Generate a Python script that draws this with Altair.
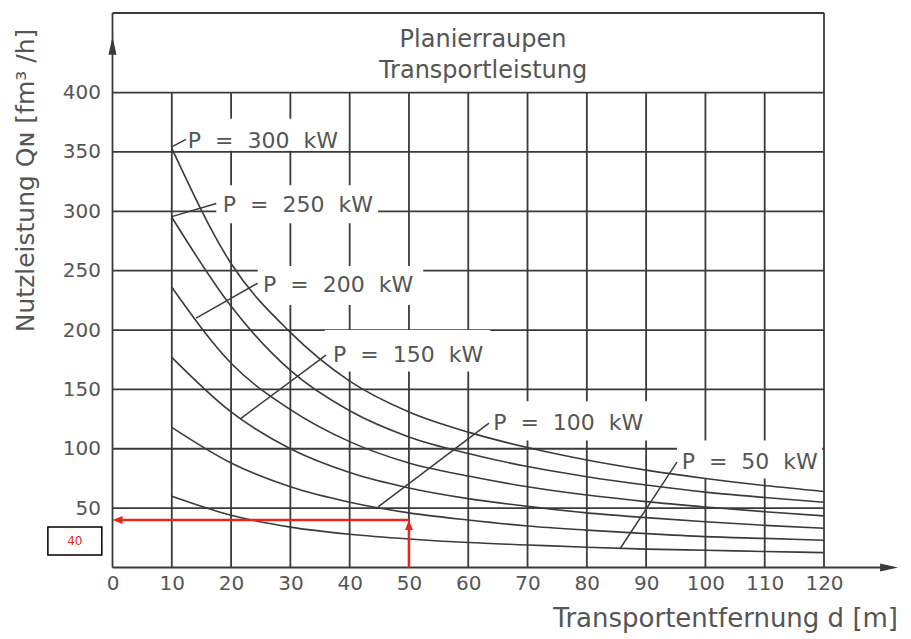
import altair as alt
import pandas as pd

# ---------------- data ----------------
D_VALUES = [10, 20, 30, 40, 50, 60, 70, 80, 90, 100, 110, 120]
POWERS = [300, 250, 200, 150, 100, 50]
Q_300 = [353, 256, 198, 157, 131, 114, 101, 90.5, 82, 75, 69, 64]
Q_250 = [295, 220, 166, 132, 110, 96, 85, 76.5, 69.5, 63.5, 59, 55]
Q_200 = [236, 172, 133, 106, 88, 77, 68, 61, 55.5, 51, 47, 43.5]
Q_150 = [177, 131, 100, 80, 67, 58, 51.5, 46, 42, 38.5, 35.5, 33]
Q_100 = [118, 88, 68, 55, 46, 40, 35, 31.5, 28.5, 26, 24.5, 23]
Q_50 = [60, 44, 34, 28, 24, 21, 19, 17, 15.5, 14.5, 13.5, 12.5]
CURVES = [Q_300, Q_250, Q_200, Q_150, Q_100, Q_50]

X_TICKS = list(range(0, 121, 10))
Y_TICKS = list(range(50, 401, 50))

# curve labels: text, label anchor (d, q), leader start on curve, leader end
LABEL_TEXT = ["P = 300 kW", "P = 250 kW", "P = 200 kW", "P = 150 kW", "P = 100 kW", "P = 50 kW"]
LABEL_D = [12.7, 18.6, 25.4, 37.2, 64.2, 96.0]
LABEL_Q = [359.5, 305, 238, 179, 121.6, 88.8]
LEADER_D1 = [9.9, 10.0, 14.1, 21.5, 44.8, 85.6]
LEADER_Q1 = [354, 295.5, 210, 125, 51, 15.8]
LEADER_D2 = [12.4, 17.5, 24.5, 36.0, 63.5, 95.2]
LEADER_Q2 = [360.5, 306.5, 239.5, 178.9, 121.6, 88.8]
# white backgrounds that break the grid behind the labels
BG_D1 = [12.2, 17.5, 24.5, 35.8, 63.3, 95.2]
BG_D2 = [39.7, 44.8, 52.4, 63.7, 90.7, 119.7]
BG_Q1 = [351, 290, 221, 165, 107, 75]
BG_Q2 = [378, 322, 254, 200, 140, 107]

TITLE_LINES = ["Planierraupen", "Transportleistung"]
TITLE_D = [62.5, 62.5]
TITLE_Q = [444, 418.5]

FRAME_TOP = 467
GRID_TOP = 400
D_MAX = 120
AXIS_END = 132.5
ARROW_TIP_Q = 447

RESULT_D = 50
RESULT_Q = 40
RESULT_LABEL = "40"

FONT = "DejaVu Sans"
INK = "#3a3a3a"
TXT = "#555555"
RED = "#e8261c"

xs = alt.Scale(domain=[0, D_MAX], nice=False, zero=False)
ys = alt.Scale(domain=[0, FRAME_TOP], nice=False, zero=False)

AX_X = alt.Axis(
    values=X_TICKS, domain=False, ticks=False, grid=False, labels=True, labelFlush=False,
    labelOverlap=False, labelFont=FONT, labelFontSize=20, labelColor=TXT, labelPadding=6,
    title="Transportentfernung d [m]", titleFont=FONT, titleFontSize=26,
    titleFontWeight="normal", titleColor=TXT, titleAlign="right",
    titleBaseline="alphabetic", titleX=785, titleY=59)
AX_Y = alt.Axis(
    values=Y_TICKS, domain=False, ticks=False, grid=False, labels=True, labelFont=FONT,
    labelFontSize=20, labelColor=TXT, labelPadding=12,
    title="Nutzleistung Q\u0274 [fm\u00b3 /h]", titleFont=FONT, titleFontSize=25,
    titleFontWeight="normal", titleColor=TXT, titleAngle=270, titleAlign="center",
    titleBaseline="middle", titleX=-87, titleY=167)

# ---------------- tables ----------------
curve_rows = []
for p, qs in zip(POWERS, CURVES):
    for d, q in zip(D_VALUES, qs):
        curve_rows.append({"x": d, "y": q, "P": f"{p} kW"})
curve_df = pd.DataFrame(curve_rows)

seg = []
for d in X_TICKS[1:-1]:
    seg.append({"x": d, "y": 0, "x2": d, "y2": GRID_TOP})
for q in Y_TICKS:
    seg.append({"x": 0, "y": q, "x2": D_MAX, "y2": q})
seg.append({"x": 0, "y": 0, "x2": 0, "y2": FRAME_TOP})
seg.append({"x": D_MAX, "y": 0, "x2": D_MAX, "y2": FRAME_TOP})
seg.append({"x": 0, "y": FRAME_TOP, "x2": D_MAX, "y2": FRAME_TOP})
seg.append({"x": 0, "y": 0, "x2": AXIS_END - 1, "y2": 0})
grid_df = pd.DataFrame(seg)

bg_df = pd.DataFrame({"x": BG_D1, "x2": BG_D2, "y": BG_Q1, "y2": BG_Q2})
leader_df = pd.DataFrame({"x": LEADER_D1, "y": LEADER_Q1, "x2": LEADER_D2, "y2": LEADER_Q2})
label_df = pd.DataFrame({"x": LABEL_D, "y": LABEL_Q,
                         "t": [s.replace(" ", "\u00a0\u00a0") for s in LABEL_TEXT]})
title_df = pd.DataFrame({"x": TITLE_D, "y": TITLE_Q, "t": TITLE_LINES})

X = alt.X("x:Q", scale=xs, axis=AX_X)
Y = alt.Y("y:Q", scale=ys, axis=AX_Y)

grid = alt.Chart(grid_df).mark_rule(color=INK, strokeWidth=1.8).encode(
    x=X, y=Y, x2="x2:Q", y2="y2:Q")

bg = alt.Chart(bg_df).mark_rect(fill="white").encode(x=X, y=Y, x2="x2:Q", y2="y2:Q")

curves = alt.Chart(curve_df).mark_line(color=INK, strokeWidth=1.6, interpolate="monotone").encode(
    x=X, y=Y, detail="P:N")

leaders = alt.Chart(leader_df).mark_rule(color=INK, strokeWidth=1.5).encode(
    x=X, y=Y, x2="x2:Q", y2="y2:Q")

labels = alt.Chart(label_df).mark_text(align="left", baseline="middle", font=FONT,
                                       fontSize=22, color=TXT).encode(x=X, y=Y, text="t:N")

title = alt.Chart(title_df).mark_text(align="center", baseline="middle", font=FONT,
                                      fontSize=24, color=TXT).encode(x=X, y=Y, text="t:N")

# axis arrows
up_arrow = alt.Chart(pd.DataFrame({"x": [0], "y": [ARROW_TIP_Q]})).mark_point(
    shape="M0,0L0.45,2L-0.45,2Z", size=324, filled=True, color=INK, opacity=1).encode(
    x=X, y=Y)
right_arrow = alt.Chart(pd.DataFrame({"x": [AXIS_END], "y": [0]})).mark_point(
    shape="M0,0L-2,-0.45L-2,0.45Z", size=324, filled=True, color=INK, opacity=1).encode(
    x=X, y=Y)

# red read-off arrows
red_df = pd.DataFrame([
    {"x": RESULT_D, "y": 0, "x2": RESULT_D, "y2": RESULT_Q - 3},
    {"x": RESULT_D, "y": RESULT_Q, "x2": 1.5, "y2": RESULT_Q},
])
red_lines = alt.Chart(red_df).mark_rule(color=RED, strokeWidth=2.5).encode(
    x=X, y=Y, x2="x2:Q", y2="y2:Q")
red_up = alt.Chart(pd.DataFrame({"x": [RESULT_D], "y": [RESULT_Q]})).mark_point(
    shape="M0,0L0.8,2L-0.8,2Z", size=100, filled=True, color=RED, opacity=1).encode(
    x=X, y=Y)
red_left = alt.Chart(pd.DataFrame({"x": [0], "y": [RESULT_Q]})).mark_point(
    shape="M0,0L2,-0.8L2,0.8Z", size=100, filled=True, color=RED, opacity=1).encode(
    x=X, y=Y)

box = alt.Chart(pd.DataFrame({"x": [-10.9], "x2": [-1.8], "y": [10.5], "y2": [34.1]})).mark_rect(
    fill="white", stroke="black", strokeWidth=1.5).encode(x=X, y=Y, x2="x2:Q", y2="y2:Q")
box_text = alt.Chart(pd.DataFrame({"x": [-6.35], "y": [22.3], "t": [RESULT_LABEL]})).mark_text(
    align="center", baseline="middle", font=FONT, fontSize=12, color=RED).encode(
    x=X, y=Y, text="t:N")

chart = alt.layer(
    grid, bg, curves, leaders, labels, title, up_arrow, right_arrow,
    red_lines, red_up, red_left, box, box_text
).properties(
    width=711.5, height=554.5,
    padding={"left": 104.5, "top": 5, "right": 79, "bottom": 70},
    autosize=alt.AutoSizeParams(type="none"),
    background="white",
).configure_view(stroke=None)

chart.save("out.html", embed_options={"renderer": "svg", "actions": False})
